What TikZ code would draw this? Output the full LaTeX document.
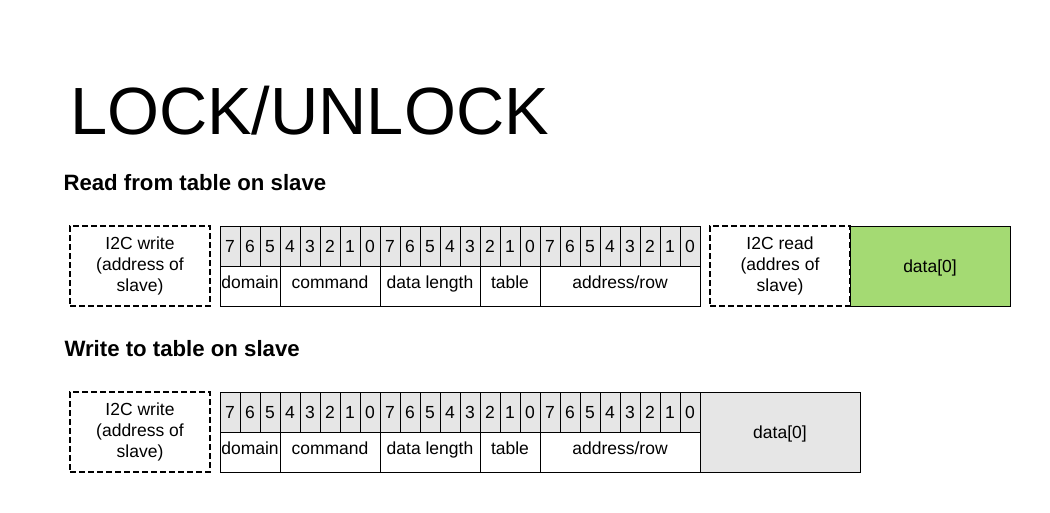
\documentclass[tikz,border=0pt]{standalone}
\usepackage{fontspec}
\setmainfont{Liberation Sans}
\definecolor{cellgray}{HTML}{E6E6E6}
\definecolor{datagreen}{HTML}{A4DA73}
\tikzset{
  box/.style={draw=black, line width=1pt, inner sep=0pt, outer sep=0pt, anchor=north west,
    font=\fontsize{17.5}{21}\selectfont, align=center, text=black},
  bitcell/.style={box, fill=cellgray, minimum width=20pt, minimum height=40pt,
    text height=12pt, text depth=0pt},
  fieldcell/.style={box, fill=white, minimum height=40pt,
    text height=4pt, text depth=0pt},
  dashbox/.style={box, line width=2pt, dash pattern=on 6pt off 3pt, fill=white,
    minimum width=140pt, minimum height=80pt},
  databox/.style={box, minimum width=160pt, minimum height=80pt,
    text height=12.5pt, text depth=0pt},
  heading/.style={anchor=base west, inner sep=0pt, outer sep=0pt,
    font=\fontsize{22.2}{26}\selectfont\bfseries},
}
\begin{document}
\begin{tikzpicture}[x=1pt, y=-1pt]
\useasboundingbox[fill=white] (0,0) rectangle (1050,512);
\node[anchor=base west, inner sep=0pt, outer sep=0pt, font=\fontsize{66.8}{70}\selectfont] (title) at (70,134.3) {LOCK/UNLOCK};
\node[heading] (hread) at (63.5,190) {Read from table on slave};
\node[heading] (hwrite) at (64.5,356) {Write to table on slave};
\foreach \r/\y in {1/226, 2/392} {
  \foreach \i in {0,...,23} {
    \pgfmathtruncatemacro{\b}{7-mod(\i,8)}
    \pgfmathsetmacro{\x}{220+20*\i}
    \node[bitcell] (r\r-b\i) at (\x,\y) {\b};
  }
  \node[fieldcell, minimum width=60pt] (r\r-dom) at (220,\y+40) {domain};
  \node[fieldcell, minimum width=100pt] (r\r-cmd) at (280,\y+40) {command};
  \node[fieldcell, minimum width=100pt] (r\r-len) at (380,\y+40) {data length};
  \node[fieldcell, minimum width=60pt] (r\r-tab) at (480,\y+40) {table};
  \node[fieldcell, minimum width=160pt] (r\r-addr) at (540,\y+40) {address/row};
  \node[dashbox] (r\r-wr) at (70,\y) {I2C write\\(address of\\slave)};
}
\node[dashbox] (r1-rd) at (710,226) {I2C read\\(addres of\\slave)};
\node[databox, fill=datagreen] (r1-data) at (850,226) {data[0]};
\node[databox, fill=cellgray] (r2-data) at (700,392) {data[0]};
\end{tikzpicture}
\end{document}
